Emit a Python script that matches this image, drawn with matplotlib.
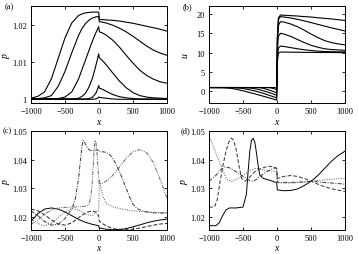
import matplotlib
matplotlib.use("Agg")
import matplotlib.pyplot as plt

plt.rcParams["font.family"] = ["Liberation Serif", "DejaVu Serif"]
plt.rcParams["font.size"] = 6
plt.rcParams["mathtext.fontset"] = "custom"
plt.rcParams["mathtext.it"] = "Liberation Serif:italic"

# ---- panels (a) and (b): shared x grid ----
xa = [-1000, -900, -800, -700, -600, -500, -400, -300, -250, -200, -150, -100, -50, -20, -5,
      5, 20, 50, 100, 200, 300, 400, 500, 600, 700, 800, 900, 1000]

pa_1 = [1.0003, 1.0008, 1.002, 1.0055, 1.011, 1.0165, 1.0205, 1.0225, 1.0229, 1.0232, 1.0233, 1.0234, 1.0234, 1.0234, 1.0234,
        1.0214, 1.0214, 1.0214, 1.0213, 1.0212, 1.021, 1.0207, 1.0204, 1.02, 1.0196, 1.0192, 1.0188, 1.0183]
pa_2 = [1.0002, 1.0002, 1.0004, 1.001, 1.0035, 1.0075, 1.0125, 1.0172, 1.019, 1.0203, 1.0212, 1.0218, 1.0221, 1.0222, 1.0223,
        1.0208, 1.0208, 1.0207, 1.0205, 1.0199, 1.0191, 1.0181, 1.0169, 1.0156, 1.0143, 1.0132, 1.0124, 1.0118]
pa_3 = [1.0002, 1.0002, 1.0002, 1.0002, 1.0002, 1.0006, 1.002, 1.0055, 1.008, 1.0105, 1.013, 1.0155, 1.0177, 1.0189, 1.0195,
        1.0181, 1.018, 1.0178, 1.0173, 1.0159, 1.014, 1.0118, 1.0097, 1.0078, 1.0064, 1.0054, 1.0047, 1.0043]
pa_4 = [1.0001, 1.0001, 1.0001, 1.0001, 1.0001, 1.0001, 1.0001, 1.0003, 1.0008, 1.0016, 1.0032, 1.0055, 1.0088, 1.011, 1.0122,
        1.0111, 1.0109, 1.0104, 1.0094, 1.0071, 1.0049, 1.0031, 1.0018, 1.001, 1.0006, 1.0004, 1.0003, 1.0002]
pa_5 = [1.0001, 1.0001, 1.0001, 1.0001, 1.0001, 1.0001, 1.0001, 1.0001, 1.0001, 1.0001, 1.0002, 1.0005, 1.0015, 1.0028, 1.0037,
        1.003, 1.0029, 1.0027, 1.0022, 1.0013, 1.0007, 1.0004, 1.0002, 1.0001, 1.0001, 1.0001, 1.0001, 1.0001]
pa_6 = [1.0, 1.0, 1.0, 1.0, 1.0, 1.0, 1.0, 1.0, 1.0, 1.0, 1.0, 1.0, 1.0001, 1.0003, 1.0006,
        1.0005, 1.0005, 1.0004, 1.0003, 1.0001, 1.0, 1.0, 1.0, 1.0, 1.0, 1.0, 1.0, 1.0]

ub_1 = [1.0, 1.0, 0.98, 0.85, 0.55, 0.15, -0.3, -0.75, -1.0, -1.25, -1.5, -1.75, -2.0, -2.15, -2.25,
        14.0, 19.0, 19.7, 19.65, 19.55, 19.45, 19.3, 19.2, 19.0, 18.85, 18.7, 18.5, 18.3]
ub_2 = [1.0, 1.0, 1.0, 1.0, 0.95, 0.75, 0.4, 0.0, -0.25, -0.5, -0.8, -1.1, -1.4, -1.55, -1.65,
        13.5, 18.5, 19.3, 19.2, 18.95, 18.6, 18.2, 17.75, 17.3, 16.85, 16.4, 16.0, 15.6]
ub_3 = [1.0, 1.0, 1.0, 1.0, 1.0, 1.0, 0.9, 0.6, 0.4, 0.15, -0.1, -0.4, -0.7, -0.9, -1.0,
        12.5, 17.0, 18.0, 17.9, 17.4, 16.7, 15.8, 14.8, 13.9, 13.1, 12.6, 12.25, 12.0]
ub_4 = [1.0, 1.0, 1.0, 1.0, 1.0, 1.0, 1.0, 1.0, 0.95, 0.8, 0.55, 0.25, -0.05, -0.25, -0.35,
        10.5, 14.2, 15.0, 14.8, 14.2, 13.4, 12.6, 11.9, 11.4, 11.0, 10.8, 10.7, 10.6]
ub_5 = [1.0, 1.0, 1.0, 1.0, 1.0, 1.0, 1.0, 1.0, 1.0, 1.0, 1.0, 0.95, 0.75, 0.55, 0.45,
        8.5, 11.2, 11.7, 11.6, 11.3, 11.0, 10.75, 10.55, 10.4, 10.3, 10.25, 10.2, 10.2]
ub_6 = [1.0, 1.0, 1.0, 1.0, 1.0, 1.0, 1.0, 1.0, 1.0, 1.0, 1.0, 1.0, 1.0, 0.95, 0.85,
        7.5, 9.9, 10.15, 10.15, 10.12, 10.1, 10.08, 10.06, 10.05, 10.04, 10.03, 10.02, 10.0]

# ---- panel (c) ----
xc_solid = [-1000, -900, -800, -700, -600, -500, -400, -300, -200, -100, -5, 5, 100, 200, 300, 400, 500, 600, 700, 800, 900, 1000]
pc_solid = [1.0185, 1.0212, 1.0228, 1.0232, 1.0228, 1.0218, 1.0205, 1.0192, 1.0182, 1.0175, 1.017, 1.0162, 1.0158, 1.0156,
            1.0157, 1.016, 1.0166, 1.0173, 1.018, 1.0186, 1.019, 1.0193]
xc_dash = [-1000, -900, -800, -700, -600, -500, -400, -300, -200, -100, -50, -5, 5, 100, 200, 300, 400, 500, 600, 700, 800, 900, 1000]
pc_dash = [1.0228, 1.0222, 1.0208, 1.019, 1.0176, 1.0172, 1.018, 1.0198, 1.0215, 1.0222, 1.0218, 1.0205, 1.0185, 1.017, 1.016,
           1.0157, 1.0156, 1.0158, 1.0162, 1.0167, 1.0172, 1.0176, 1.0178]
xc_dot = [-1000, -900, -800, -700, -600, -500, -400, -300, -200, -100, -50, -5, 5, 50, 100, 200, 300, 400, 500, 600, 700, 800, 900, 1000]
pc_dot = [1.0195, 1.0178, 1.017, 1.0178, 1.0198, 1.0218, 1.023, 1.0225, 1.021, 1.0205, 1.0215, 1.0225, 1.033, 1.028, 1.0248,
          1.0236, 1.023, 1.0226, 1.0222, 1.022, 1.0218, 1.0217, 1.0216, 1.0215]
xc_dd = [-1000, -900, -800, -700, -600, -500, -450, -400, -350, -300, -275, -250, -235, -210, -180, -150, -120, -90, -60, -30, -5,
         5, 50, 100, 150, 200, 250, 300, 350, 400, 450, 500, 550, 600, 700, 800, 900, 1000]
pc_dd = [1.0222, 1.0205, 1.0185, 1.0172, 1.0175, 1.0195, 1.0212, 1.0228, 1.0262, 1.0335, 1.0395, 1.0448, 1.0468, 1.046, 1.0445,
         1.0436, 1.0432, 1.0432, 1.0433, 1.0434, 1.0434, 1.0428, 1.0428, 1.0426, 1.042, 1.0405, 1.0385, 1.036, 1.033, 1.03,
         1.027, 1.0245, 1.0232, 1.0225, 1.0218, 1.0215, 1.0214, 1.0215]
xc_ddd = [-1000, -900, -800, -700, -600, -500, -400, -300, -200, -150, -120, -100, -80, -65, -55, -45, -30, -15, -5,
          5, 50, 100, 200, 300, 400, 500, 600, 700, 800, 900, 1000]
pc_ddd = [1.0175, 1.019, 1.021, 1.0225, 1.0232, 1.0234, 1.0235, 1.0236, 1.0238, 1.0242, 1.027, 1.032, 1.04, 1.0455, 1.0468,
          1.046, 1.0425, 1.037, 1.034, 1.0315, 1.0318, 1.0325, 1.0345, 1.0375, 1.0405, 1.0428, 1.0435, 1.0425, 1.039, 1.033, 1.0265]

# ---- panel (d) ----
xd_solid = [-1000, -900, -850, -800, -750, -700, -600, -500, -450, -425, -400, -375, -350, -325, -300, -275, -250, -200, -100,
            -5, 5, 100, 200, 300, 400, 500, 600, 700, 800, 900, 1000]
pd_solid = [1.017, 1.017, 1.018, 1.0205, 1.0225, 1.0232, 1.0232, 1.0235, 1.028, 1.036, 1.043, 1.0468, 1.0475, 1.046, 1.042,
            1.0375, 1.0345, 1.0335, 1.0328, 1.032, 1.0295, 1.0292, 1.0293, 1.0298, 1.031, 1.0325, 1.0345, 1.037, 1.0395, 1.0415, 1.043]
xd_dash = [-1000, -920, -880, -840, -800, -760, -720, -690, -667, -640, -600, -560, -520, -470, -400, -320, -250, -130, -50, -5,
           5, 100, 200, 300, 400, 500, 600, 700, 800, 900, 1000]
pd_dash = [1.0235, 1.0235, 1.026, 1.032, 1.0375, 1.042, 1.0455, 1.047, 1.0475, 1.0468, 1.0435, 1.038, 1.0335, 1.0325, 1.034,
           1.036, 1.0368, 1.0378, 1.0375, 1.037, 1.0335, 1.0342, 1.0345, 1.0342, 1.0335, 1.0325, 1.0315, 1.0306, 1.0299, 1.0294, 1.029]
xd_dot = [-1000, -950, -900, -860, -800, -740, -667, -600, -470, -400, -320, -250, -150, -50, -5, 5, 100, 200, 300, 400, 500,
          600, 700, 800, 900, 1000]
pd_dot = [1.048, 1.0455, 1.0425, 1.04, 1.0365, 1.0332, 1.0325, 1.0332, 1.035, 1.0362, 1.037, 1.0368, 1.0362, 1.036, 1.0358,
          1.032, 1.0319, 1.0319, 1.032, 1.0322, 1.0325, 1.0328, 1.033, 1.0332, 1.0334, 1.0335]
xd_dashdot = [-1000, -900, -830, -765, -700, -600, -470, -400, -350, -300, -250, -175, -100, -30, -5, 5, 100, 200, 300, 400,
              500, 600, 700, 800, 900, 1000]
pd_dashdot = [1.0325, 1.0345, 1.0365, 1.0375, 1.0372, 1.0358, 1.0337, 1.0328, 1.0325, 1.0332, 1.0342, 1.0355, 1.0365, 1.0372,
              1.037, 1.0322, 1.0321, 1.0321, 1.0322, 1.0323, 1.0325, 1.0323, 1.0321, 1.0319, 1.0317, 1.0315]

DASH = (0, (4, 2))
DOT = (0, (1, 1.5))
DASHDOT = (0, (4, 1.5, 1, 1.5))
DASHDOTDOT = (0, (4, 1.2, 1, 1.2, 1, 1.2))

fig = plt.figure(figsize=(3.58, 2.55), dpi=100)
ax_a = fig.add_axes([0.0866, 0.592, 0.38, 0.38])
ax_b = fig.add_axes([0.5838, 0.592, 0.38, 0.38])
ax_c = fig.add_axes([0.0866, 0.094, 0.38, 0.388])
ax_d = fig.add_axes([0.5838, 0.094, 0.38, 0.388])

lw = 0.8
for y in (pa_1, pa_2, pa_3, pa_4, pa_5, pa_6):
    ax_a.plot(xa, y, color="black", lw=lw)
for y in (ub_1, ub_2, ub_3, ub_4, ub_5, ub_6):
    ax_b.plot(xa, y, color="black", lw=lw)

lw2 = 0.7
ax_c.plot(xc_solid, pc_solid, color="black", lw=lw2)
ax_c.plot(xc_dash, pc_dash, color="#222222", lw=lw2, ls=DASH)
ax_c.plot(xc_dot, pc_dot, color="#555555", lw=lw2, ls=DOT)
ax_c.plot(xc_dd, pc_dd, color="#333333", lw=lw2, ls=DASHDOT)
ax_c.plot(xc_ddd, pc_ddd, color="#666666", lw=lw2, ls=DASHDOTDOT)

ax_d.plot(xd_solid, pd_solid, color="black", lw=lw2)
ax_d.plot(xd_dash, pd_dash, color="#333333", lw=lw2, ls=DASH)
ax_d.plot(xd_dot, pd_dot, color="#555555", lw=lw2, ls=DOT)
ax_d.plot(xd_dashdot, pd_dashdot, color="#333333", lw=lw2, ls=DASHDOT)

ax_a.set_ylim(0.999, 1.025)
ax_a.set_yticks([1.0, 1.01, 1.02])
ax_a.set_yticklabels(["1", "1.01", "1.02"])
ax_b.set_ylim(-3, 22)
ax_b.set_yticks([0, 5, 10, 15, 20])
for ax in (ax_c, ax_d):
    ax.set_ylim(1.0155, 1.05)
    ax.set_yticks([1.02, 1.03, 1.04, 1.05])
    ax.set_yticklabels(["1.02", "1.03", "1.04", "1.05"])

for ax in (ax_a, ax_b, ax_c, ax_d):
    ax.set_xlim(-1000, 1000)
    ax.set_xticks([-1000, -500, 0, 500, 1000])
    ax.tick_params(direction="in", length=2.5, width=0.6, top=True, right=True, pad=3, labelsize=6)
    for s in ax.spines.values():
        s.set_linewidth(0.7)
    ax.set_xlabel("$x$", fontsize=7)

ax_a.xaxis.set_label_coords(0.5, -0.145)
ax_b.xaxis.set_label_coords(0.5, -0.145)
ax_c.xaxis.set_label_coords(0.5, -0.13)
ax_d.xaxis.set_label_coords(0.5, -0.13)

ax_a.set_ylabel("$p$", fontsize=7)
ax_b.set_ylabel("$u$", fontsize=7)
ax_c.set_ylabel("$p$", fontsize=7)
ax_d.set_ylabel("$p$", fontsize=7)
ax_a.yaxis.set_label_coords(-0.14, 0.5)
ax_b.yaxis.set_label_coords(-0.14, 0.5)
ax_c.yaxis.set_label_coords(-0.14, 0.5)
ax_d.yaxis.set_label_coords(-0.14, 0.5)

fig.text(0.012, 0.972, "(a)", va="center", ha="left", fontsize=6)
fig.text(0.511, 0.972, "(b)", va="center", ha="left", fontsize=6)
fig.text(0.008, 0.484, "(c)", va="center", ha="left", fontsize=6)
fig.text(0.505, 0.484, "(d)", va="center", ha="left", fontsize=6)

fig.savefig("out.png", dpi=100)
